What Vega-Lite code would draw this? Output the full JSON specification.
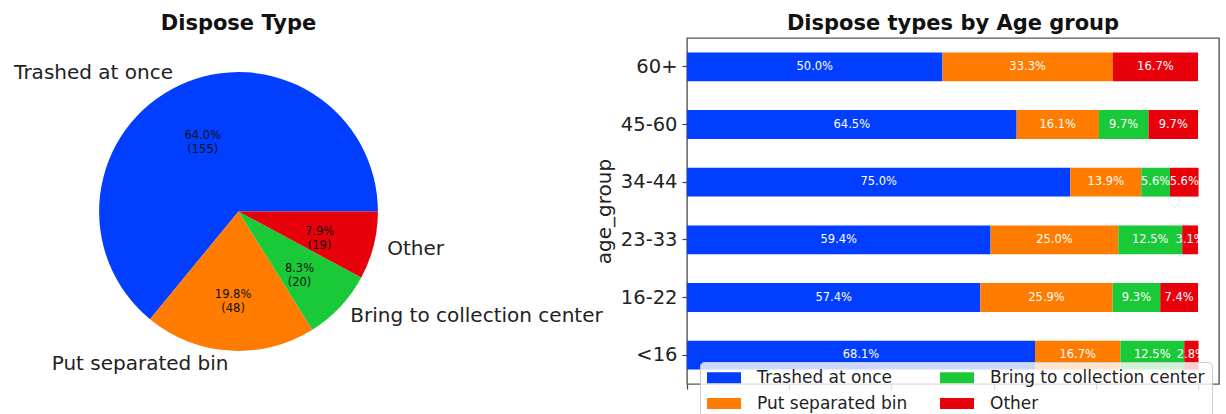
{
  "$schema": "https://vega.github.io/schema/vega-lite/v6.json",
  "autosize": {"type": "pad"},
  "padding": {"left": 0, "top": 12, "right": 7, "bottom": 0},
  "background": "white",
  "config": {
    "font": "DejaVu Sans",
    "view": {"stroke": null},
    "title": {"font": "DejaVu Sans", "fontSize": 21, "fontWeight": "bold", "color": "#111", "offset": 4, "frame": "group", "anchor": "middle"}
  },
  "datasets": {
    "overall": [
      {"type": "Trashed at once", "idx": 1, "n": 155},
      {"type": "Put separated bin", "idx": 2, "n": 48},
      {"type": "Bring to collection center", "idx": 3, "n": 20},
      {"type": "Other", "idx": 4, "n": 19}
    ],
    "by_age": [
      {"age_group": "60+", "type": "Trashed at once", "idx": 1, "pct": 50.0},
      {"age_group": "60+", "type": "Put separated bin", "idx": 2, "pct": 33.3},
      {"age_group": "60+", "type": "Other", "idx": 4, "pct": 16.7},
      {"age_group": "45-60", "type": "Trashed at once", "idx": 1, "pct": 64.5},
      {"age_group": "45-60", "type": "Put separated bin", "idx": 2, "pct": 16.1},
      {"age_group": "45-60", "type": "Bring to collection center", "idx": 3, "pct": 9.7},
      {"age_group": "45-60", "type": "Other", "idx": 4, "pct": 9.7},
      {"age_group": "34-44", "type": "Trashed at once", "idx": 1, "pct": 75.0},
      {"age_group": "34-44", "type": "Put separated bin", "idx": 2, "pct": 13.9},
      {"age_group": "34-44", "type": "Bring to collection center", "idx": 3, "pct": 5.6},
      {"age_group": "34-44", "type": "Other", "idx": 4, "pct": 5.6},
      {"age_group": "23-33", "type": "Trashed at once", "idx": 1, "pct": 59.4},
      {"age_group": "23-33", "type": "Put separated bin", "idx": 2, "pct": 25.0},
      {"age_group": "23-33", "type": "Bring to collection center", "idx": 3, "pct": 12.5},
      {"age_group": "23-33", "type": "Other", "idx": 4, "pct": 3.1},
      {"age_group": "16-22", "type": "Trashed at once", "idx": 1, "pct": 57.4},
      {"age_group": "16-22", "type": "Put separated bin", "idx": 2, "pct": 25.9},
      {"age_group": "16-22", "type": "Bring to collection center", "idx": 3, "pct": 9.3},
      {"age_group": "16-22", "type": "Other", "idx": 4, "pct": 7.4},
      {"age_group": "<16", "type": "Trashed at once", "idx": 1, "pct": 68.1},
      {"age_group": "<16", "type": "Put separated bin", "idx": 2, "pct": 16.7},
      {"age_group": "<16", "type": "Bring to collection center", "idx": 3, "pct": 12.5},
      {"age_group": "<16", "type": "Other", "idx": 4, "pct": 2.8}
    ]
  },
  "hconcat": [
    {
      "title": "Dispose Type",
      "width": 477,
      "height": 347,
      "data": {"name": "overall"},
      "transform": [
        {"joinaggregate": [{"op": "sum", "field": "n", "as": "total"}]},
        {"calculate": "[format(datum.n / datum.total, '.1%'), '(' + datum.n + ')']", "as": "pct_label"}
      ],
      "encoding": {
        "theta": {"field": "n", "type": "quantitative", "stack": true, "scale": {"range": [1.5707963, -4.712389]}},
        "order": {"field": "idx", "type": "quantitative"}
      },
      "layer": [
        {
          "mark": {"type": "arc", "outerRadius": 139.4, "stroke": null},
          "encoding": {
            "color": {
              "field": "type", "type": "nominal", "legend": null,
              "scale": {
                "domain": ["Trashed at once", "Put separated bin", "Bring to collection center", "Other"],
                "range": ["#023eff", "#ff7c00", "#1ac938", "#e8000b"]
              }
            }
          }
        },
        {
          "mark": {"type": "text", "radius": 153.3, "align": "right", "baseline": "middle", "fontSize": 20, "color": "#222"},
          "encoding": {
            "detail": {"field": "type", "type": "nominal"},
            "text": {"condition": {"test": "datum.idx <= 2", "field": "type"}, "value": ""}
          }
        },
        {
          "mark": {"type": "text", "radius": 153.3, "align": "left", "baseline": "middle", "fontSize": 20, "color": "#222"},
          "encoding": {
            "detail": {"field": "type", "type": "nominal"},
            "text": {"condition": {"test": "datum.idx >= 3", "field": "type"}, "value": ""}
          }
        },
        {
          "mark": {"type": "text", "radius": 83.6, "align": "center", "baseline": "middle", "fontSize": 11.5, "lineHeight": 14, "color": "#111"},
          "encoding": {
            "detail": {"field": "type", "type": "nominal"},
            "text": {"field": "pct_label"}
          }
        }
      ]
    },
    {
      "title": "Dispose types by Age group",
      "width": 532,
      "height": 346,
      "view": {"stroke": "#555", "strokeWidth": 1.4},
      "data": {"name": "by_age"},
      "transform": [
        {"stack": "pct", "groupby": ["age_group"], "sort": [{"field": "idx", "order": "ascending"}], "as": ["x0", "x1"]},
        {"calculate": "(datum.x0 + datum.x1) / 2", "as": "xmid"},
        {"calculate": "format(datum.pct, '.1f') + '%'", "as": "pct_label"}
      ],
      "encoding": {
        "y": {
          "field": "age_group", "type": "nominal",
          "sort": ["60+", "45-60", "34-44", "23-33", "16-22", "<16"],
          "scale": {"paddingInner": 0.5, "paddingOuter": 0.25},
          "axis": {
            "title": "age_group", "titleFontSize": 20, "titleFontWeight": "normal", "titleColor": "#222", "titlePadding": 6,
            "labelFontSize": 19.5, "labelColor": "#222", "labelPadding": 5,
            "tickSize": 5, "tickColor": "#444", "tickWidth": 1.2, "domain": false, "grid": false
          }
        }
      },
      "layer": [
        {
          "mark": {"type": "bar", "stroke": null},
          "encoding": {
            "x": {
              "field": "x0", "type": "quantitative",
              "scale": {"domain": [0, 104.1], "nice": false, "zero": true},
              "axis": {"title": null, "labels": false, "values": [0, 20, 40, 60, 80, 100], "tickSize": 5, "tickColor": "#444", "tickWidth": 1.2, "domain": false, "grid": false}
            },
            "x2": {"field": "x1"},
            "color": {
              "field": "type", "type": "nominal",
              "scale": {
                "domain": ["Trashed at once", "Put separated bin", "Bring to collection center", "Other"],
                "range": ["#023eff", "#ff7c00", "#1ac938", "#e8000b"]
              },
              "legend": {
                "title": null,
                "orient": "none",
                "legendX": 13,
                "legendY": 324,
                "columns": 2,
                "gridAlign": "each",
                "columnPadding": 32,
                "rowPadding": 8,
                "padding": 7,
                "fillColor": "rgba(255,255,255,0.8)",
                "strokeColor": "#cccccc",
                "cornerRadius": 4,
                "symbolType": "M-1,-0.64H3V0.64H-1Z",
                "symbolSize": 289,
                "symbolStrokeWidth": 0,
                "symbolOpacity": 1,
                "labelOffset": 33,
                "labelFontSize": 17,
                "labelColor": "#222",
                "labelLimit": 400
              }
            }
          }
        },
        {
          "mark": {"type": "text", "align": "center", "baseline": "middle", "fontSize": 11.5, "color": "white"},
          "encoding": {
            "x": {"field": "xmid", "type": "quantitative"},
            "text": {"field": "pct_label"}
          }
        }
      ]
    }
  ],
  "spacing": 210,
  "bounds": "flush",
  "resolve": {"scale": {"color": "independent", "theta": "independent"}}
}
